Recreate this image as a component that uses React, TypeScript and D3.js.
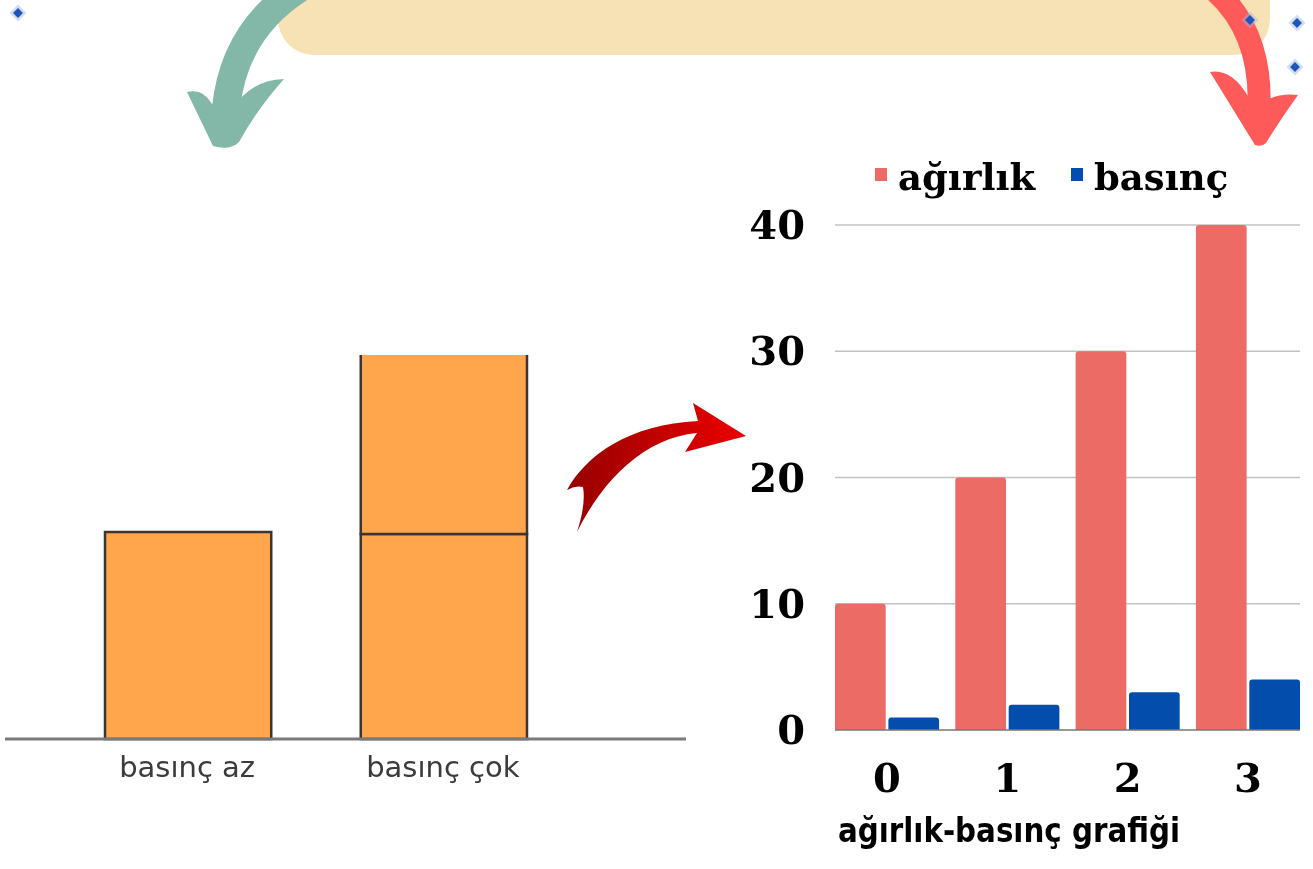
import React from "react";
import * as d3 from "d3";

// chart data
const categories = ["0", "1", "2", "3"];
const agirlik = [10, 20, 30, 40];
const basinc = [1, 2, 3, 4];
const yTicks = [0, 10, 20, 30, 40];
const seriesNames = ["ağırlık", "basınç"];
const chartTitle = "ağırlık-basınç grafiği";

// left illustration: how many blocks are stacked on each
const blockLabels = ["basınç az", "basınç çok"];
const blockCounts = [1, 2];

const W = 1313;
const H = 869;

const colors = ["#ec6b65", "#034ead"];

// rounded top corners only
function topRounded(x: number, y: number, w: number, h: number, r: number) {
  const rr = Math.min(r, h / 2, w / 2);
  return `M${x},${y + h}V${y + rr}Q${x},${y} ${x + rr},${y}H${x + w - rr}Q${x + w},${y} ${x + w},${y + rr}V${y + h}Z`;
}

export default function App() {
  // right chart scales
  const x0 = d3.scaleBand().domain(categories).range([835, 1300]).paddingInner(0.135).paddingOuter(0);
  const x1 = d3.scaleBand().domain(seriesNames).range([0, x0.bandwidth()]).paddingInner(0.05);
  const y = d3.scaleLinear().domain([0, 40]).range([730, 225]);

  // left illustration scales
  const bx = d3.scaleBand().domain(blockLabels).range([105, 527]).paddingInner(0.35).paddingOuter(0);
  const by = d3.scaleLinear().domain([0, 1]).range([739, 534]);

  const serif = "'DejaVu Serif', serif";

  return (
    <svg
      width={W}
      height={H}
      viewBox={`0 0 ${W} ${H}`}
      style={{ position: "absolute", left: 0, top: 0, background: "#fff" }}
    >
      <defs>
        <linearGradient id="redArrow" x1="0%" y1="0%" x2="100%" y2="0%">
          <stop offset="0%" stopColor="#960000" />
          <stop offset="100%" stopColor="#ec0000" />
        </linearGradient>
        <filter id="soft" x="-5%" y="-5%" width="110%" height="110%">
          <feGaussianBlur stdDeviation="0.7" />
        </filter>
        <clipPath id="cropTop">
          <rect x={0} y={355} width={700} height={500} />
        </clipPath>
      </defs>

      {/* beige banner at the top */}
      <rect x={278} y={-80} width={992} height={135} rx={36} fill="#f7e2b5" />

      {/* green arrow */}
      <path d="M300,-12 Q234,30 226,108" fill="none" stroke="#83b8a8" strokeWidth={28} />
      <path
        d="M187,92 Q203,88 212,104 L239,100 Q256,80 284,79 Q258,108 239,142 Q230,151 213,146 Z"
        fill="#83b8a8"
      />

      {/* red arrow on the right */}
      <path d="M1212,-12 Q1262,30 1259,108" fill="none" stroke="#ff5a5a" strokeWidth={23} />
      <path
        d="M1210,72 Q1232,68 1249,98 L1269,99 Q1282,93 1298,95 Q1280,120 1266,143 Q1262,147 1255,145 Z"
        fill="#ff5a5a"
      />

      {/* sparkles */}
      {[
        [18, 13],
        [1250, 20],
        [1297, 23],
        [1295, 67],
      ].map(([sx, sy], i) => (
        <g key={i} transform={`translate(${sx},${sy}) rotate(45)`}>
          <rect x={-6} y={-6} width={12} height={12} fill="#9bb4e0" opacity={0.45} />
          <rect x={-3.5} y={-3.5} width={7} height={7} fill="#1d56b8" />
        </g>
      ))}

      {/* left illustration */}
      <g filter="url(#soft)">
        <g clipPath="url(#cropTop)">
          {blockLabels.map((lab, i) =>
            d3.range(blockCounts[i]).map((k) => (
              <rect
                key={lab + k}
                x={bx(lab)!}
                y={by(k + 1) - (i === 0 ? 2 : 0)}
                width={bx.bandwidth()}
                height={by(0) - by(1) + (i === 0 ? 2 : 0)}
                fill="#ffa54b"
                stroke="#3a3530"
                strokeWidth={2.5}
              />
            ))
          )}
        </g>
        <line x1={5} x2={686} y1={739} y2={739} stroke="#7a7a7a" strokeWidth={3} />
        {blockLabels.map((lab) => (
          <text
            key={lab}
            x={bx(lab)! + bx.bandwidth() / 2 - 1}
            y={777}
            textAnchor="middle"
            fontFamily="'DejaVu Sans', sans-serif"
            fontSize={29}
            fill="#3a3a3a"
          >
            {lab}
          </text>
        ))}
      </g>

      {/* middle red arrow */}
      <path
        d="M567,490 C586,455 630,424 698,421 L693,403 L746,436 L685,452 L697,433 C645,438 604,478 577,532 Q586,505 583,487 Q575,485 567,490 Z"
        fill="url(#redArrow)"
      />

      {/* legend */}
      {seriesNames.map((s, i) => {
        const lx = [875, 1071][i];
        return (
          <g key={s}>
            <rect x={lx} y={168} width={12} height={13} fill={colors[i]} />
            <text x={lx + 23} y={190} fontFamily={serif} fontWeight="bold" fontSize={37} fill="#000">
              {s}
            </text>
          </g>
        );
      })}

      {/* gridlines */}
      {yTicks.slice(1).map((t) => (
        <line key={t} x1={835} x2={1300} y1={y(t)} y2={y(t)} stroke="#c2c2c2" strokeWidth={1.5} />
      ))}

      {/* bars */}
      {categories.map((c, i) => (
        <g key={c} transform={`translate(${x0(c)},0)`}>
          {[agirlik[i], basinc[i]].map((v, j) => (
            <path
              key={j}
              d={topRounded(x1(seriesNames[j])!, y(v), x1.bandwidth(), y(0) - y(v), 3)}
              fill={colors[j]}
            />
          ))}
        </g>
      ))}

      <line x1={835} x2={1300} y1={y(0)} y2={y(0)} stroke="#777" strokeWidth={1.5} />

      {/* y tick labels */}
      {yTicks.map((t) => (
        <text
          key={t}
          x={805}
          y={y(t) + 14}
          textAnchor="end"
          fontFamily={serif}
          fontWeight="bold"
          fontSize={40}
          fill="#000"
        >
          {t}
        </text>
      ))}

      {/* x tick labels */}
      {categories.map((c) => (
        <text
          key={c}
          x={x0(c)! + x0.bandwidth() / 2}
          y={792}
          textAnchor="middle"
          fontFamily={serif}
          fontWeight="bold"
          fontSize={40}
          fill="#000"
        >
          {c}
        </text>
      ))}

      {/* title */}
      <text
        x={838}
        y={842}
        fontFamily="'DejaVu Sans Condensed', 'DejaVu Sans', sans-serif"
        fontWeight="bold"
        fontSize={34}
        textLength={342}
        lengthAdjust="spacingAndGlyphs"
        fill="#000"
      >
        {chartTitle}
      </text>
    </svg>
  );
}
